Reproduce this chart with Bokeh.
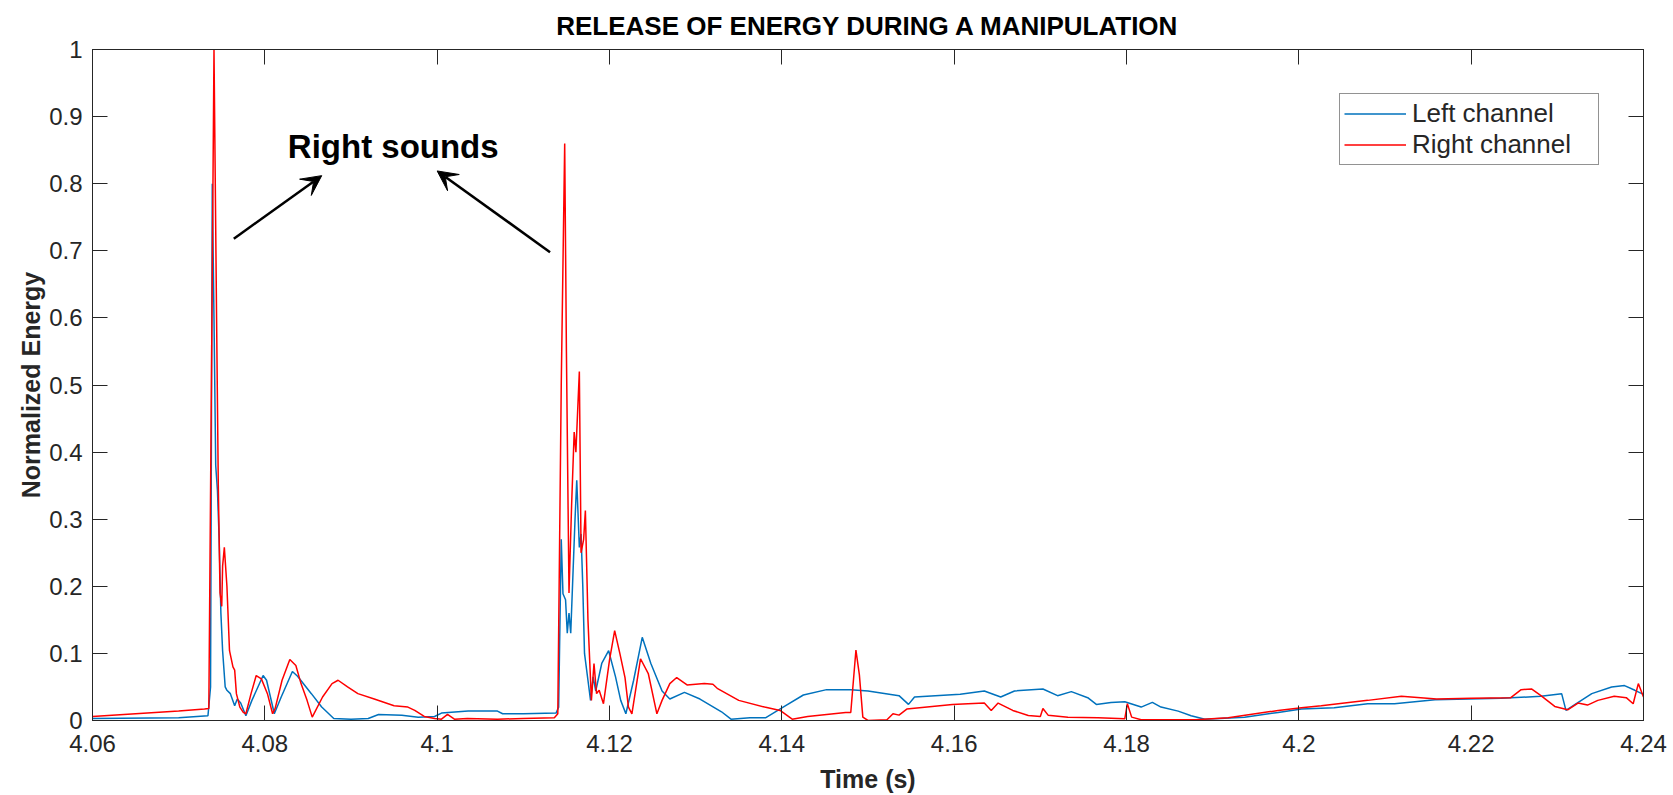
from bokeh.plotting import figure
from bokeh.models import (Range1d, LinearAxis, Label, Arrow, VeeHead, FixedTicker,
                          Legend, LegendItem)
from bokeh.embed import file_html
from bokeh.resources import INLINE

# ---------------- data ----------------
left_t = [4.0600, 4.0700, 4.0734, 4.0737, 4.0739, 4.0741, 4.0743, 4.0745, 4.0747, 4.0749,
          4.0751, 4.0754, 4.0756, 4.0760, 4.0765, 4.0768, 4.0772, 4.0778, 4.0785, 4.0798,
          4.0802, 4.0811, 4.0819, 4.0832, 4.0838, 4.0854, 4.0866, 4.0880, 4.0900, 4.0920,
          4.0932, 4.0959, 4.0978, 4.0997, 4.1005, 4.1036, 4.1070, 4.1076, 4.1100, 4.1138,
          4.1141, 4.1144, 4.1146, 4.1149, 4.1151, 4.1153, 4.1155, 4.1160, 4.1162, 4.1165,
          4.1167, 4.1169, 4.1171, 4.1175, 4.1178, 4.1181, 4.1184, 4.1191, 4.1199, 4.1207,
          4.1213, 4.1219, 4.1228, 4.1238, 4.1248, 4.1261, 4.1270, 4.1287, 4.1305, 4.1330,
          4.1341, 4.1363, 4.1381, 4.1403, 4.1425, 4.1452, 4.1480, 4.1500, 4.1536, 4.1547,
          4.1554, 4.1607, 4.1635, 4.1654, 4.1670, 4.1703, 4.1720, 4.1736, 4.1755, 4.1765,
          4.1782, 4.1798, 4.1817, 4.1830, 4.1840, 4.1860, 4.1875, 4.1891, 4.1937, 4.1976,
          4.2003, 4.2041, 4.2080, 4.2111, 4.2158, 4.2235, 4.2281, 4.2305, 4.2310, 4.2322,
          4.2340, 4.2363, 4.2378, 4.2390, 4.2400]
left_e = [0.003, 0.004, 0.007, 0.050, 0.800, 0.600, 0.380, 0.343, 0.270, 0.160,
          0.104, 0.050, 0.045, 0.040, 0.022, 0.032, 0.026, 0.007, 0.030, 0.067,
          0.060, 0.010, 0.035, 0.073, 0.066, 0.040, 0.020, 0.003, 0.002, 0.003,
          0.009, 0.008, 0.005, 0.006, 0.011, 0.014, 0.014, 0.010, 0.010, 0.011,
          0.020, 0.270, 0.189, 0.180, 0.130, 0.160, 0.130, 0.300, 0.358, 0.258,
          0.278, 0.200, 0.100, 0.060, 0.030, 0.065, 0.044, 0.085, 0.104, 0.065,
          0.030, 0.010, 0.060, 0.124, 0.085, 0.044, 0.032, 0.042, 0.032, 0.013,
          0.002, 0.004, 0.004, 0.021, 0.038, 0.046, 0.046, 0.044, 0.037, 0.024,
          0.035, 0.039, 0.044, 0.035, 0.044, 0.047, 0.037, 0.043, 0.034, 0.024,
          0.027, 0.028, 0.020, 0.027, 0.020, 0.014, 0.007, 0.002, 0.005, 0.012,
          0.017, 0.019, 0.025, 0.025, 0.031, 0.033, 0.036, 0.040, 0.015, 0.025,
          0.040, 0.050, 0.052, 0.045, 0.039]

right_t = [4.0600, 4.0650, 4.0700, 4.0730, 4.0735, 4.0738, 4.0741, 4.0744, 4.0746, 4.0748,
           4.0750, 4.0751, 4.0753, 4.0756, 4.0759, 4.0763, 4.0765, 4.0767, 4.0771, 4.0775,
           4.0778, 4.0784, 4.0790, 4.0796, 4.0803, 4.0809, 4.0812, 4.0820, 4.0829, 4.0836,
           4.0842, 4.0849, 4.0855, 4.0867, 4.0878, 4.0885, 4.0896, 4.0908, 4.0927, 4.0950,
           4.0966, 4.0974, 4.0985, 4.0997, 4.1005, 4.1012, 4.1020, 4.1035, 4.1070, 4.1100,
           4.1136, 4.1140, 4.1144, 4.1148, 4.1150, 4.1153, 4.1156, 4.1159, 4.1161, 4.1165,
           4.1167, 4.1170, 4.1172, 4.1175, 4.1177, 4.1179, 4.1182, 4.1185, 4.1188, 4.1193,
           4.1200, 4.1206, 4.1212, 4.1218, 4.1222, 4.1226, 4.1236, 4.1245, 4.1255, 4.1261,
           4.1270, 4.1278, 4.1290, 4.1310, 4.1320, 4.1325, 4.1350, 4.1380, 4.1398, 4.1412,
           4.1430, 4.1474, 4.1480, 4.1486, 4.1490, 4.1494, 4.1500, 4.1522, 4.1529, 4.1536,
           4.1545, 4.1598, 4.1616, 4.1635, 4.1643, 4.1651, 4.1668, 4.1686, 4.1700, 4.1703,
           4.1709, 4.1732, 4.1767, 4.1798, 4.1801, 4.1806, 4.1817, 4.1880, 4.1918, 4.1976,
           4.2003, 4.2026, 4.2080, 4.2119, 4.2160, 4.2200, 4.2246, 4.2258, 4.2270, 4.2281,
           4.2297, 4.2312, 4.2324, 4.2335, 4.2347, 4.2366, 4.2380, 4.2388, 4.2394, 4.2400]
right_e = [0.006, 0.010, 0.014, 0.017, 0.018, 0.500, 1.000, 0.600, 0.350, 0.190,
           0.170, 0.230, 0.258, 0.200, 0.104, 0.080, 0.075, 0.040, 0.020, 0.012,
           0.010, 0.040, 0.067, 0.062, 0.040, 0.010, 0.018, 0.060, 0.091, 0.082,
           0.055, 0.030, 0.005, 0.035, 0.055, 0.060, 0.050, 0.040, 0.032, 0.022,
           0.020, 0.015, 0.006, 0.003, 0.002, 0.009, 0.002, 0.003, 0.002, 0.003,
           0.004, 0.010, 0.500, 0.860, 0.550, 0.190, 0.320, 0.430, 0.400, 0.520,
           0.250, 0.270, 0.313, 0.150, 0.090, 0.030, 0.085, 0.040, 0.045, 0.025,
           0.090, 0.134, 0.100, 0.064, 0.020, 0.010, 0.092, 0.070, 0.010, 0.030,
           0.055, 0.064, 0.053, 0.055, 0.054, 0.048, 0.030, 0.020, 0.015, 0.002,
           0.006, 0.012, 0.012, 0.105, 0.068, 0.005, 0.000, 0.001, 0.010, 0.008,
           0.017, 0.024, 0.025, 0.026, 0.015, 0.026, 0.015, 0.0075, 0.006, 0.018,
           0.008, 0.005, 0.004, 0.0025, 0.025, 0.005, 0.001, 0.001, 0.004, 0.015,
           0.019, 0.022, 0.030, 0.036, 0.032, 0.033, 0.034, 0.046, 0.047, 0.037,
           0.021, 0.016, 0.026, 0.023, 0.030, 0.036, 0.034, 0.025, 0.055, 0.035]

x_ticks = [4.06, 4.08, 4.1, 4.12, 4.14, 4.16, 4.18, 4.2, 4.22, 4.24]
x_tick_labels = ["4.06", "4.08", "4.1", "4.12", "4.14", "4.16", "4.18", "4.2", "4.22", "4.24"]
y_ticks = [0, 0.1, 0.2, 0.3, 0.4, 0.5, 0.6, 0.7, 0.8, 0.9, 1]
y_tick_labels = ["0", "0.1", "0.2", "0.3", "0.4", "0.5", "0.6", "0.7", "0.8", "0.9", "1"]

series_names = ["Left channel", "Right channel"]
title_text = "RELEASE OF ENERGY DURING A MANIPULATION"
x_label = "Time (s)"
y_label = "Normalized Energy"
note_text = "Right sounds"

# ---------------- figure ----------------
FONT = "Liberation Sans"
INK = "#262626"

p = figure(width=1673, height=795, output_backend="svg", toolbar_location=None,
           x_range=Range1d(4.06, 4.24), y_range=Range1d(0, 1),
           min_border_left=92, min_border_right=30, min_border_top=49, min_border_bottom=75)
p.background_fill_color = "white"
p.border_fill_color = "white"
p.outline_line_color = INK
p.outline_line_width = 1
p.xgrid.visible = False
p.ygrid.visible = False

p.title.text = title_text
p.title.align = "center"
p.title.text_font = FONT
p.title.text_font_size = "26px"
p.title.text_font_style = "bold"
p.title.text_color = "black"
p.title.standoff = 17


def style_axis(ax, ticks, labels, show_labels, standoff):
    ax.ticker = FixedTicker(ticks=ticks)
    ax.axis_line_color = INK
    ax.axis_line_width = 1
    ax.major_tick_line_color = INK
    ax.major_tick_line_width = 1
    ax.major_tick_in = 15
    ax.major_tick_out = 0
    ax.minor_tick_line_color = None
    ax.major_label_text_font = FONT
    if show_labels:
        ax.major_label_overrides = {t: l for t, l in zip(ticks, labels)}
        ax.major_label_text_color = INK
        ax.major_label_text_font_size = "24px"
        ax.major_label_standoff = standoff
    else:
        ax.major_label_text_color = None
        ax.major_label_text_alpha = 0
        ax.major_label_text_font_size = "1px"
        ax.major_label_standoff = 0


style_axis(p.xaxis[0], x_ticks, x_tick_labels, True, 14)
style_axis(p.yaxis[0], y_ticks, y_tick_labels, True, 10)

p.xaxis[0].axis_label = x_label
p.xaxis[0].axis_label_standoff = 10
p.yaxis[0].axis_label = y_label
p.yaxis[0].axis_label_standoff = 1
for ax in (p.xaxis[0], p.yaxis[0]):
    ax.axis_label_text_font = FONT
    ax.axis_label_text_font_size = "25px"
    ax.axis_label_text_font_style = "bold"
    ax.axis_label_text_color = INK

ax_top = LinearAxis()
style_axis(ax_top, x_ticks, x_tick_labels, False, 0)
p.add_layout(ax_top, "above")
ax_right = LinearAxis()
style_axis(ax_right, y_ticks, y_tick_labels, False, 0)
p.add_layout(ax_right, "right")

r_left = p.line(left_t, left_e, line_color="#0072BD", line_width=1.5)
r_right = p.line(right_t, right_e, line_color="#FF0000", line_width=1.5)

legend = Legend(items=[LegendItem(label=series_names[0], renderers=[r_left]),
                       LegendItem(label=series_names[1], renderers=[r_right])],
                location="top_right")
legend.margin = 44
legend.padding = 4
legend.spacing = 0
legend.glyph_width = 62
legend.glyph_height = 27
legend.label_height = 27
legend.label_width = 182
legend.label_standoff = 6
legend.label_text_font = FONT
legend.label_text_font_size = "26px"
legend.label_text_color = INK
legend.border_line_color = INK
legend.border_line_width = 1
legend.background_fill_color = "white"
legend.background_fill_alpha = 1
p.add_layout(legend)

# annotation
p.add_layout(Label(x=4.0949, y=0.855, text=note_text, text_font=FONT, text_font_size="33px",
                   text_font_style="bold", text_color="black", text_align="center",
                   text_baseline="alphabetic"))
p.add_layout(Arrow(end=VeeHead(size=20, fill_color="black", line_color="black"),
                   x_start=4.0764, y_start=0.718, x_end=4.0866, y_end=0.812,
                   line_color="black", line_width=2.5))
p.add_layout(Arrow(end=VeeHead(size=20, fill_color="black", line_color="black"),
                   x_start=4.1131, y_start=0.698, x_end=4.1000, y_end=0.819,
                   line_color="black", line_width=2.5))

open("out.html", "w").write(file_html(p, INLINE))
